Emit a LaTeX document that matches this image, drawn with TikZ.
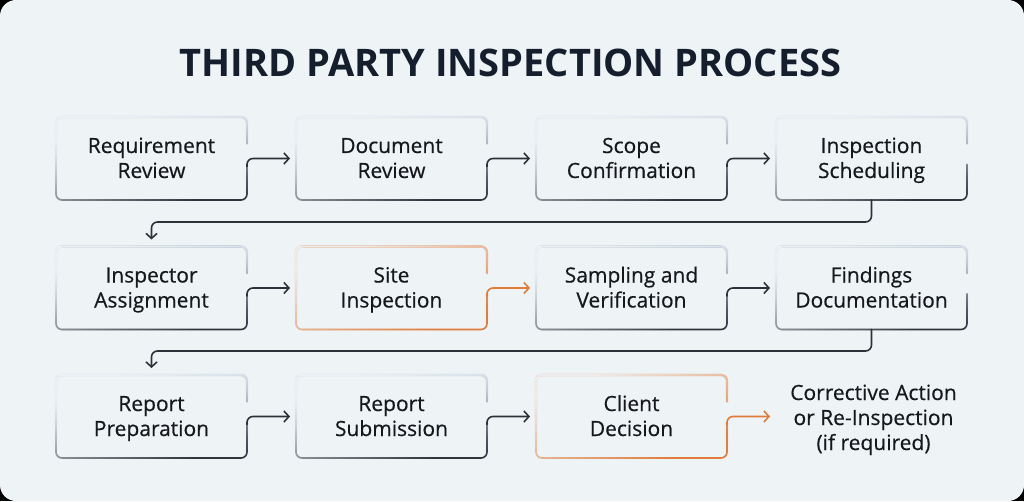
\documentclass[tikz,border=0pt]{standalone}
\usepackage{fontspec}
\setmainfont{Open Sans}
\newfontfamily\bodyfont{Open Sans}[FakeBold=0.45]
\usetikzlibrary{arrows.meta,calc,fadings}

\definecolor{bg}{HTML}{EEF3F6}
\definecolor{ink}{HTML}{2C323A}
\definecolor{accent}{HTML}{E07B39}
\definecolor{tint}{HTML}{C6D2E2}
\definecolor{titleink}{HTML}{151E2D}
\definecolor{txt}{HTML}{16181C}

% soft highlight along the upper-left part of each outline
\tikzfading[name=fadecorner, left color=transparent!5, middle color=transparent!100, right color=transparent!100]
\tikzfading[name=fadetop, top color=transparent!0, middle color=transparent!100, bottom color=transparent!100]

\tikzset{
  slot/.style={minimum width=191pt, minimum height=83pt, inner sep=0pt, outer sep=0pt},
  label/.style={font=\bodyfont\fontsize{21}{25}\selectfont, text=txt, align=center, anchor=base, inner sep=0pt},
  flow/.style={line width=1.6pt, rounded corners=6pt, line cap=round,
    -{Straight Barb[length=5pt,width=11pt,line width=1.6pt]}},
  rim/.style={line width=1.6pt, rounded corners=6pt, line cap=round},
}

% outline of a step box, open on the right side where its connector leaves
\newcommand\stepoutline[3]{%
  \draw[rim, #2] ($(#1.east)+(0,15)$) -- (#1.north east) -- (#1.north west)
    -- (#1.south west) -- (#1.south east) -- ($(#1.east)+(0,-6)$);
  \draw[rim, line width=2.2pt, #3, path fading=fadetop] ($(#1.east)+(0,15)$) -- (#1.north east) -- (#1.north west)
    -- (#1.south west) -- (#1.south east) -- ($(#1.east)+(0,-6)$);
  \draw[rim, line width=2.4pt, bg, path fading=fadecorner, fading angle=-45] ($(#1.east)+(0,15)$) -- (#1.north east) -- (#1.north west)
    -- (#1.south west) -- (#1.south east) -- ($(#1.east)+(0,-6)$);
}

\begin{document}
\begin{tikzpicture}[x=1pt, y=1pt]
  \useasboundingbox (0,0) rectangle (1024,501);
  \fill[black] (0,0) rectangle (1024,501);
  \fill[bg, rounded corners=16pt] (0,0) rectangle (1024,501);

  \node[anchor=base, font=\bfseries\fontsize{38}{38}\selectfont, text=titleink]
    (title) at (510.5,424) {THIRD PARTY INSPECTION PROCESS};

  % step slots
  \node[slot] (a) at (151.5,342.5) {};
  \node[slot] (b) at (391.5,342.5) {};
  \node[slot] (c) at (631.5,342.5) {};
  \node[slot] (d) at (871.5,342.5) {};
  \node[slot] (e) at (151.5,213) {};
  \node[slot] (f) at (391.5,213) {};
  \node[slot] (g) at (631.5,213) {};
  \node[slot] (h) at (871.5,213) {};
  \node[slot] (i) at (151.5,84.5) {};
  \node[slot] (j) at (391.5,84.5) {};
  \node[slot] (k) at (631.5,84.5) {};
  \node[slot] (l) at (871.5,84.5) {};

  \stepoutline{a}{ink}{tint}
  \stepoutline{b}{ink}{tint}
  \stepoutline{c}{ink}{tint}
  \stepoutline{d}{ink}{tint}
  \stepoutline{e}{ink}{tint}
  \stepoutline{f}{accent}{accent!85}
  \stepoutline{g}{ink}{tint}
  \stepoutline{h}{ink}{tint}
  \stepoutline{i}{ink}{tint}
  \stepoutline{j}{ink}{tint}
  \stepoutline{k}{accent}{accent!85}

  % texts, placed by the baseline of their last line
  \node[label] at ($(a)+(0,-19.5)$) {Requirement\\Review};
  \node[label] at ($(b)+(0,-19.5)$) {Document\\Review};
  \node[label] at ($(c)+(0,-19.5)$) {Scope\\Confirmation};
  \node[label] at ($(d)+(0,-19.5)$) {Inspection\\Scheduling};
  \node[label] at ($(e)+(0,-19.5)$) {Inspector\\Assignment};
  \node[label] at ($(f)+(0,-19.5)$) {Site\\Inspection};
  \node[label] at ($(g)+(0,-19.5)$) {Sampling and\\Verification};
  \node[label] at ($(h)+(0,-19.5)$) {Findings\\Documentation};
  \node[label] at ($(i)+(0,-19.5)$) {Report\\Preparation};
  \node[label] at ($(j)+(0,-19.5)$) {Report\\Submission};
  \node[label] at ($(k)+(0,-19.5)$) {Client\\Decision};
  \node[label] at ($(l)+(2,-33.5)$) {Corrective Action\\or Re-Inspection\\(if required)};

  % connectors within a row
  \foreach \p/\q/\c in {a/b/ink, b/c/ink, c/d/ink, e/f/ink, f/g/accent, g/h/ink, i/j/ink, j/k/ink, k/l/accent}
    \draw[flow, \c] ($(\p.east)+(0,-8)$) -- (\p.east) -- ($(\q.west)+(-6,0)$);

  % connectors between rows
  \coordinate (turnA) at (0,279);
  \coordinate (turnB) at (0,150);
  \draw[flow, ink] (d.south) -- (d.south |- turnA) -- (e.north |- turnA) -- ($(e.north)+(0,7)$);
  \draw[flow, ink] (h.south) -- (h.south |- turnB) -- (i.north |- turnB) -- ($(i.north)+(0,7)$);
\end{tikzpicture}
\end{document}
